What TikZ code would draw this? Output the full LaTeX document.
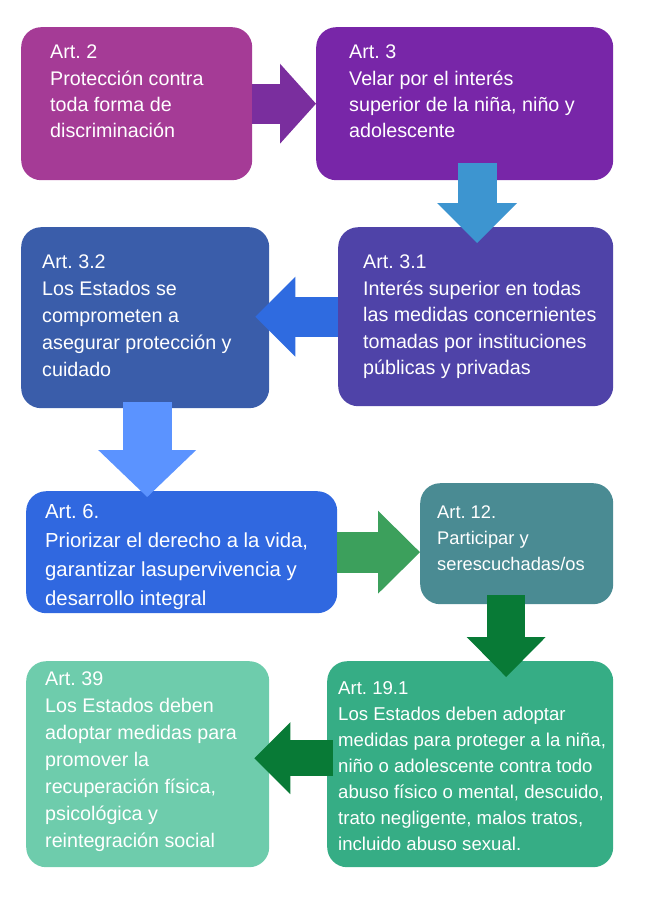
\documentclass[tikz,border=0pt]{standalone}
\usepackage{fontspec}
\setmainfont{Liberation Sans}
\usetikzlibrary{arrows.meta,positioning}
\frenchspacing

\definecolor{cArtTwo}{RGB}{165,59,150}
\definecolor{cArtThree}{RGB}{120,38,168}
\definecolor{cArtThreeOne}{RGB}{79,67,168}
\definecolor{cArtThreeTwo}{RGB}{58,93,170}
\definecolor{cArtSix}{RGB}{48,104,224}
\definecolor{cArtTwelve}{RGB}{74,139,147}
\definecolor{cArtNineteen}{RGB}{54,173,133}
\definecolor{cArtThirtyNine}{RGB}{110,204,172}
\definecolor{aViolet}{RGB}{122,46,158}
\definecolor{aSky}{RGB}{61,149,208}
\definecolor{aBlue}{RGB}{47,107,224}
\definecolor{aLight}{RGB}{91,147,255}
\definecolor{aGreen}{RGB}{60,160,92}
\definecolor{aDark}{RGB}{8,122,54}

\newcommand{\artfont}[2]{\fontsize{#1}{#2}\selectfont}

\begin{document}
\begin{tikzpicture}[x=1pt,y=-1pt,
  blockarrow/.style n args={4}{draw=#1, line width=#2,
    -{Triangle[length=#3, width=#4, line width=0pt]}}]
\tikzstyle{box}=[rectangle, rounded corners=20pt, anchor=north west, inner sep=0pt]
\tikzstyle{txt}=[anchor=north west, inner sep=0pt, align=left, text=white]

\useasboundingbox (0,0) rectangle (650,900);

% boxes
	\node[box, fill=cArtTwo, minimum width=231pt, minimum height=153pt] (art2) at (21,27) {};
	\node[box, fill=cArtThree, minimum width=297pt, minimum height=153pt] (art3) at (316,27) {};
	\node[box, fill=cArtThreeTwo, minimum width=248pt, minimum height=181pt] (art32) at (21,227) {};
	\node[box, fill=cArtThreeOne, minimum width=275pt, minimum height=179pt] (art31) at (338,227) {};
	\node[box, fill=cArtSix, minimum width=311pt, minimum height=122pt] (art6) at (26,491) {};
	\node[box, fill=cArtTwelve, minimum width=193pt, minimum height=121pt] (art12) at (420,483) {};
	\node[box, fill=cArtThirtyNine, minimum width=243pt, minimum height=206pt] (art39) at (26,661) {};
	\node[box, fill=cArtNineteen, minimum width=286pt, minimum height=206pt] (art191) at (327,661) {};

% arrows
	\path
		(art2.east) edge [blockarrow={aViolet}{40pt}{36pt}{80pt}] (art3.west)
		([xshift=12.5pt,yshift=17pt]art3.south) edge [blockarrow={aSky}{39pt}{40pt}{80pt}] ([xshift=1.5pt,yshift=-16pt]art31.north)
		(art31.west) edge [blockarrow={aBlue}{40pt}{40pt}{80pt}] ([xshift=-14pt,yshift=1pt]art32.east)
		([xshift=2pt,yshift=6pt]art32.south) edge [blockarrow={aLight}{49pt}{47pt}{98pt}] ([xshift=-34.5pt,yshift=-6pt]art6.north)
		(art6.east) edge [blockarrow={aGreen}{41pt}{42pt}{83pt}] ([yshift=-8.5pt]art12.west)
		([xshift=-10.5pt,yshift=9pt]art12.south) edge [blockarrow={aDark}{38pt}{40pt}{79pt}] ([xshift=36pt,yshift=-16pt]art191.north)
		([xshift=6pt,yshift=6pt]art191.west) edge [blockarrow={aDark}{36pt}{36pt}{72pt}] ([xshift=-15pt,yshift=6pt]art39.east);

% texts
	\node[txt, font=\artfont{19.7}{26.3}] (art2txt) at (50,44.9) {Art. 2\\Protección contra\\toda forma de\\discriminación};
	\node[txt, font=\artfont{19.7}{26.3}] (art3txt) at (349,44.9) {Art. 3\\Velar por el interés\\superior de la niña, niño y\\adolescente};
	\node[txt, font=\artfont{19.7}{27}] (art32txt) at (42,254.9) {Art. 3.2\\Los Estados se\\comprometen a\\asegurar protección y\\cuidado};
	\node[txt, font=\artfont{19.7}{26.5}] (art31txt) at (363,254.9) {Art. 3.1\\Interés superior en todas\\las medidas concernientes\\tomadas por instituciones\\públicas y privadas};
	\node[txt, font=\artfont{20.3}{29}] (art6txt) at (45,504.5) {Art. 6.\\Priorizar el derecho a la vida,\\garantizar lasupervivencia y\\desarrollo integral};
	\node[txt, font=\artfont{18.3}{26}] (art12txt) at (437,505.9) {Art. 12.\\Participar y\\serescuchadas/os};
	\node[txt, font=\artfont{19.7}{27}] (art39txt) at (45,671.9) {Art. 39\\Los Estados deben\\adoptar medidas para\\promover la\\recuperación física,\\psicológica y\\reintegración social};
	\node[txt, font=\artfont{18.6}{26}] (art191txt) at (338,681.7) {Art. 19.1\\Los Estados deben adoptar\\medidas para proteger a la niña,\\niño o adolescente contra todo\\abuso físico o mental, descuido,\\trato negligente, malos tratos,\\incluido abuso sexual.};

\end{tikzpicture}
\end{document}
